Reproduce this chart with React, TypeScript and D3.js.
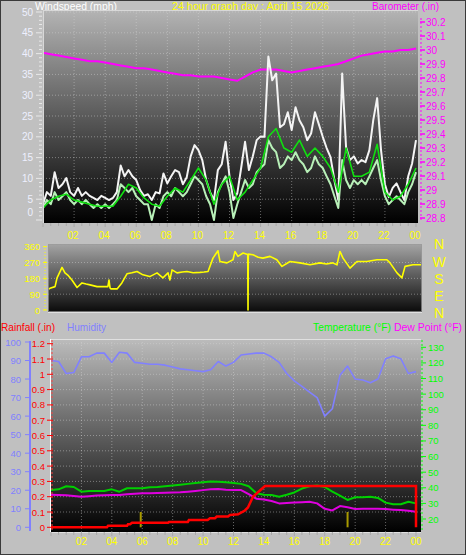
import React from 'react';
import * as d3 from 'd3';

// ---------- DATA ----------
const hourLabels = ['02', '04', '06', '08', '10', '12', '14', '16', '18', '20', '22', '00'];

// wind (mph), every 15 minutes from 00:00 to 24:00
const windGust = [
  3.8, 6.7, 5.8, 11.5, 7.7, 8.6, 10.1, 6.7, 5.8, 7.7, 5.8, 6.7, 5.8, 5.3, 4.8, 5.8,
  5.3, 4.8, 5.3, 6.7, 13.1, 10.5, 12, 10.5, 9.6, 7.2, 5.8, 6.2, 4.8, 6.7, 6.4, 11.2,
  8.8, 10.5, 12, 11.5, 8.6, 10.3, 15.3, 18, 16.8, 14.4, 9.6, 6.7, 4.8, 12, 13.4, 18.8,
  10.5, 4.8, 6.4, 12.5, 18.8, 12, 15.3, 19.2, 20.1, 20, 39.3, 33.6, 35.2, 22.3, 23, 25.9,
  21.6, 27.1, 24, 22.3, 19.2, 20.8, 25.9, 23, 20, 17.3, 15.1, 9.6, 4.8, 35.2, 17.5, 14.4,
  15.3, 13.6, 14.4, 13.9, 16.8, 24, 29.3, 16.8, 8.6, 5.5, 7.7, 8.8, 6.7, 4.8, 10.5, 13.6,
  19.2,
];
const windSpeed = [
  2.9, 4.8, 3.8, 6.7, 4.8, 5.7, 6.7, 4.8, 3.8, 4.8, 3.8, 4.8, 3.8, 2.9, 3.8, 2.9,
  3.8, 2.9, 3.8, 4.8, 8.6, 7.7, 6.7, 7.7, 5.7, 4.8, 3.8, 3.8, 0, 3.8, 2.9, 5.7,
  6.7, 5.7, 7.7, 6.7, 5.7, 6.7, 8.6, 10.5, 9.6, 8.6, 5.7, 3.8, 0, 6.7, 8.6, 10.5,
  6.7, 0.5, 3.8, 6.7, 9.6, 7.7, 8.6, 11.5, 12.5, 13.4, 19.2, 17.3, 16.3, 12.5, 13.4, 15.3,
  14.4, 16.3, 14.4, 13.4, 11.5, 12.5, 15.3, 13.4, 12.5, 10.5, 8.6, 5.7, 2.9, 14.4, 9.6, 7.7,
  9.6, 8.6, 9.6, 8.6, 10.5, 12.5, 14.4, 9.6, 5.7, 3.8, 4.8, 5.7, 4.8, 3.8, 6.7, 8.6,
  11.5,
];
// wind average (mph), every 30 minutes
const windAvg = [
  2.9, 4.8, 5.7, 6.2, 4.8, 4.3, 3.8, 3.3, 3.3, 3.3, 5.7, 8.6, 7.7, 5.3, 3.8, 3.3,
  5.7, 7.7, 6.7, 9.6, 12.5, 9.6, 3.8, 8.6, 10.5, 4.8, 6.7, 9.6, 12.5, 20, 22, 17.3,
  16.3, 19.2, 15.3, 17.3, 15.3, 12.5, 6.7, 17.3, 10.5, 10.5, 11.5, 18.2, 6.7, 4.8, 5.7, 8.6,
  12.5,
];
// barometer (in), every 30 minutes
const barometer = [
  29.98, 29.97, 29.96, 29.95, 29.94, 29.93, 29.92, 29.92, 29.91, 29.9, 29.89, 29.88,
  29.87, 29.87, 29.86, 29.85, 29.84, 29.83, 29.82, 29.82, 29.81, 29.81, 29.81, 29.8,
  29.79, 29.78, 29.81, 29.84, 29.86, 29.86, 29.86, 29.85, 29.84, 29.85, 29.86, 29.87,
  29.88, 29.89, 29.9, 29.92, 29.94, 29.96, 29.97, 29.98, 29.99, 29.99, 30.0, 30.0,
  30.01,
];
// wind direction readings [hour, degrees]
const windDirection: [number, number][] = [
  [0, 118], [0.06, 124], [0.39, 133], [0.52, 183], [0.84, 242], [1.03, 211], [1.25, 195],
  [1.48, 171], [1.81, 128], [2.13, 154], [2.4, 148], [2.65, 143], [3.1, 133], [3.5, 134],
  [3.8, 133], [3.87, 171], [3.94, 125], [4.0, 120], [4.39, 120], [4.7, 154], [5.03, 206],
  [5.35, 212], [5.68, 219], [6.06, 200], [6.5, 190], [6.97, 211], [7.35, 183], [7.68, 211],
  [7.8, 171], [7.94, 228], [8.26, 211], [8.6, 216], [8.9, 219], [9.3, 212], [9.74, 214],
  [10.0, 216], [10.26, 219], [10.58, 295], [10.9, 337], [11.03, 276], [11.48, 268],
  [11.87, 286], [12.0, 333], [12.19, 305], [12.52, 324], [12.82, 316], [12.84, 0],
  [12.86, 318], [13.16, 314], [13.5, 300], [13.8, 295], [14.26, 305], [14.7, 286],
  [15.03, 248], [15.55, 276], [16.19, 268], [16.84, 257], [17.48, 268], [17.9, 262],
  [18.3, 268], [18.58, 257], [18.77, 333], [18.97, 295], [19.42, 238], [19.87, 276],
  [20.5, 276], [21.16, 286], [21.8, 286], [22.0, 268], [22.45, 211], [22.77, 183],
  [22.97, 248], [23.48, 257], [24, 257],
];
// humidity (%), every 30 minutes
const humidity = [
  90, 89.5, 83, 83.5, 92, 92, 94, 94, 89, 94.5, 94, 89, 88.5, 88, 88, 87.5,
  86.5, 85.5, 85, 84.5, 84, 85, 89.5, 87, 89, 93, 93.5, 94, 94, 92, 89, 83,
  79, 76, 73, 70, 60, 64, 82, 87, 80, 79.5, 78, 80, 91, 92.5, 91, 83,
  84,
];
// temperature (°F), every 30 minutes
const temperature = [
  38.5, 39, 41, 40.5, 37.5, 38, 38, 38, 39, 37.5, 39.7, 39.7, 39.7, 40.3, 40.5, 41,
  41.5, 42, 42.5, 43, 43.5, 44, 43.8, 43.5, 43, 42.5, 41, 36.5, 35.5, 35.4, 34.3, 35.5,
  37, 39.5, 41, 41.5, 40.5, 37.5, 35, 32.2, 33.9, 34, 34.2, 33.5, 30.5, 29.5, 29.5, 31,
  30,
];
// dew point (°F), every 30 minutes
const dewPoint = [
  35.5, 35.4, 35.2, 34.8, 34.3, 34.6, 35, 35.2, 35.4, 35.3, 35.8, 36.2, 36.5, 36.5, 36.6, 36.8,
  37, 37.1, 37.5, 38, 38.5, 39, 39.2, 38.8, 38.6, 38.5, 36, 33, 32.5, 31.5, 30, 30.2,
  30.5, 30.8, 31, 30, 26.5, 25.5, 28.3, 27.5, 26.4, 26.5, 26.6, 26.5, 26.4, 26, 25.7, 25.3,
  24.7,
];
// cumulative rainfall readings [hour, inches]
const rainfall: [number, number][] = [
  [0, 0], [3.68, 0], [3.75, 0.01], [5.0, 0.01], [5.06, 0.02], [5.2, 0.02], [5.33, 0.03],
  [7.7, 0.03], [7.76, 0.035], [9.0, 0.035], [9.07, 0.048], [10.3, 0.048], [10.45, 0.059],
  [10.78, 0.059], [10.9, 0.07], [11.64, 0.07], [11.77, 0.08], [12.3, 0.085], [12.75, 0.11],
  [12.95, 0.13], [13.28, 0.2], [14.07, 0.27], [24, 0.27], [24, 0],
];
// rain rate marks [hour, in]
const rainRate: [number, number][] = [[5.9, 0.1], [19.5, 0.1]];

const windTicks = d3.range(0, 51, 5);
const baroTicks = d3.range(0, 15).map((i) => +(28.8 + i * 0.1).toFixed(1));
const dirTicks = [0, 90, 180, 270, 360];
const dirLetters = ['N', 'W', 'S', 'E', 'N'];
const humTicks = d3.range(0, 101, 10);
const rainTicks = d3.range(0, 13).map((i) => +(i * 0.1).toFixed(1));
const tempTicks = d3.range(20, 131, 10);

// ---------- LAYOUT ----------
const FONT = "'Liberation Sans', Arial, sans-serif";
const top = { x0: 43, x1: 418, y0: 10, y1: 223 };
const mid = { x0: 48, x1: 422, y0: 244, y1: 312 };
const bot = { x0: 51, x1: 421, y0: 339, y1: 532 };

const xT = d3.scaleLinear().domain([0, 24]).range([43, 416]);
const yW = d3.scaleLinear().domain([0, 50]).range([220, 12]);
const yB = d3.scaleLinear().domain([28.8, 30.2]).range([218, 22]);
const xM = d3.scaleLinear().domain([0, 24]).range([49, 421]);
const yD = d3.scaleLinear().domain([0, 360]).range([310, 246.7]);
const xB = d3.scaleLinear().domain([0, 24]).range([51, 416]);
const yH = d3.scaleLinear().domain([0, 100]).range([527.3, 342]);
const yR = d3.scaleLinear().domain([0, 1.2]).range([527.3, 343.7]);
const yTm = d3.scaleLinear().domain([20, 130]).range([519, 347.3]);

const fmt = (v: number) => String(+v.toFixed(1));

function series(vals: number[], step: number, x: (h: number) => number, y: (v: number) => number) {
  return d3
    .line<number>()
    .x((_, i) => x(i * step))
    .y((v) => y(v))(vals) as string;
}
function pairs(vals: [number, number][], x: (h: number) => number, y: (v: number) => number) {
  return d3
    .line<[number, number]>()
    .x((d) => x(d[0]))
    .y((d) => y(d[1]))(vals) as string;
}

const gridStyle = { stroke: '#d8d8d8', strokeOpacity: 0.45, strokeWidth: 1, strokeDasharray: '1,2' };

function Label(props: { x: number; y: number; w: number; fill: string; children: string }) {
  return (
    <text x={props.x} y={props.y} fontSize={11} fill={props.fill} textLength={props.w} lengthAdjust="spacingAndGlyphs">
      {props.children}
    </text>
  );
}

export default function App() {
  const halfHours = d3.range(0, 49).map((i) => i * 0.5);
  const evenHours = d3.range(2, 25, 2);
  return (
    <svg
      width={466}
      height={555}
      style={{ position: 'absolute', left: 0, top: 0, background: '#c0c0c0' }}
      fontFamily={FONT}
    >
      <defs>
        <linearGradient id="gTop" x1="0" y1="0" x2="0" y2="1">
          <stop offset="0" stopColor="#b4b4b4" />
          <stop offset="0.5" stopColor="#5a5a5a" />
          <stop offset="1" stopColor="#000" />
        </linearGradient>
        <linearGradient id="gMid" x1="0" y1="0" x2="0" y2="1">
          <stop offset="0" stopColor="#a4a4a4" />
          <stop offset="1" stopColor="#0a0a0a" />
        </linearGradient>
        <linearGradient id="gBot" x1="0" y1="0" x2="0" y2="1">
          <stop offset="0" stopColor="#bcbcbc" />
          <stop offset="0.5" stopColor="#5e5e5e" />
          <stop offset="1" stopColor="#000" />
        </linearGradient>
        <clipPath id="cTop">
          <rect x={top.x0} y={top.y0} width={top.x1 - top.x0} height={top.y1 - top.y0} />
        </clipPath>
        <clipPath id="cMid">
          <rect x={mid.x0} y={mid.y0} width={mid.x1 - mid.x0} height={mid.y1 - mid.y0} />
        </clipPath>
        <clipPath id="cBot">
          <rect x={bot.x0} y={bot.y0 - 2} width={bot.x1 - bot.x0} height={bot.y1 - bot.y0 + 2} />
        </clipPath>
      </defs>
      <rect x={0.5} y={0.5} width={465} height={554} fill="#c0c0c0" stroke="#3a3a3a" />

      {/* ---------- TOP PANEL ---------- */}
      <Label x={35} y={10} w={82} fill="#ffffff">Windspeed (mph)</Label>
      <Label x={172} y={10} w={157} fill="#ffff00">24 hour graph day : April 15 2026</Label>
      <Label x={372} y={10} w={67} fill="#ff00ff">Barometer (.in)</Label>

      <rect x={top.x0} y={top.y0} width={top.x1 - top.x0} height={top.y1 - top.y0} fill="url(#gTop)" />
      {windTicks.filter((v) => v > 0).map((v) => (
        <line key={'wg' + v} x1={top.x0} x2={top.x1} y1={yW(v)} y2={yW(v)} {...gridStyle} />
      ))}
      {evenHours.filter((h) => h < 24).map((h) => (
        <line key={'wv' + h} x1={xT(h)} x2={xT(h)} y1={top.y0} y2={top.y1} {...gridStyle} />
      ))}
      <g clipPath="url(#cTop)">
        <path d={series(barometer, 0.5, xT, yB)} fill="none" stroke="#ff00ff" strokeWidth={2} />
        <path d={series(windGust, 0.25, xT, yW)} fill="none" stroke="#f4f4f4" strokeWidth={2} strokeLinejoin="round" />
        <path d={series(windSpeed, 0.25, xT, yW)} fill="none" stroke="#b8f0b8" strokeWidth={2} strokeLinejoin="round" />
        <path d={series(windAvg, 0.5, xT, yW)} fill="none" stroke="#10e010" strokeWidth={1.6} strokeLinejoin="round" />
      </g>
      <line x1={top.x0} x2={top.x1} y1={top.y0 + 0.5} y2={top.y0 + 0.5} stroke="#d8d8d8" />
      <line x1={top.x0 + 0.5} x2={top.x0 + 0.5} y1={top.y0} y2={top.y1} stroke="#d8d8d8" />
      {/* left axis */}
      {d3.range(0, 51).map((v) => (
        <line key={'wm' + v} x1={v % 5 === 0 ? 36 : 39} x2={42} y1={yW(v)} y2={yW(v)} stroke="#e8e8e8" strokeWidth={1} />
      ))}
      {windTicks.map((v) => (
        <text key={'wl' + v} x={33} y={Math.min(yW(v), 212) + 3.5} fontSize={10} fill="#eef0ff" textAnchor="end">{v}</text>
      ))}
      {/* right axis */}
      <line x1={421} x2={421} y1={top.y0 + 8} y2={top.y1 - 2} stroke="#ff00ff" strokeDasharray="2,2" />
      {baroTicks.map((v) => (
        <g key={'bl' + v}>
          <line x1={420} x2={425} y1={yB(v)} y2={yB(v)} stroke="#ff00ff" strokeWidth={1.5} />
          <text x={426} y={yB(v) + 3.5} fontSize={10} fill="#ff00ff">{fmt(v)}</text>
        </g>
      ))}
      {/* bottom ticks and hour labels */}
      {halfHours.map((h) => (
        <line key={'tt' + h} x1={xT(h)} x2={xT(h)} y1={top.y1} y2={top.y1 + (h % 2 === 0 ? 4 : 3)} stroke="#a8a8a8" />
      ))}
      {evenHours.map((h, i) => (
        <text key={'tl' + h} x={xT(h) - 1} y={239} fontSize={10} fill="#ffff00" textAnchor="middle">{hourLabels[i]}</text>
      ))}

      {/* ---------- MIDDLE PANEL ---------- */}
      <rect x={mid.x0} y={mid.y0} width={mid.x1 - mid.x0} height={mid.y1 - mid.y0} fill="url(#gMid)" />
      {dirTicks.filter((v) => v > 0 && v < 360).map((v) => (
        <line key={'dg' + v} x1={mid.x0} x2={mid.x1} y1={yD(v)} y2={yD(v)} {...gridStyle} />
      ))}
      <g clipPath="url(#cMid)">
        <path d={pairs(windDirection, xM, yD)} fill="none" stroke="#ffff00" strokeWidth={1.6} strokeLinejoin="round" />
      </g>
      <rect x={mid.x0 + 0.5} y={mid.y0 + 0.5} width={mid.x1 - mid.x0 - 1} height={mid.y1 - mid.y0 - 1} fill="none" stroke="#9a9a9a" strokeOpacity={0.7} />
      <line x1={mid.x0} x2={mid.x1} y1={mid.y1 + 0.5} y2={mid.y1 + 0.5} stroke="#e0e0e0" />
      <line x1={45} x2={45} y1={mid.y0 + 2} y2={mid.y1 - 1} stroke="#ffff00" strokeDasharray="1,2" />
      {dirTicks.map((v) => (
        <g key={'dl' + v}>
          <line x1={43} x2={47} y1={yD(v)} y2={yD(v)} stroke="#ffff00" />
          <text x={40} y={yD(v) + 3.5} fontSize={9.5} fill="#ffff00" textAnchor="end">{v}</text>
        </g>
      ))}
      {dirTicks.map((v, i) => (
        <text key={'dn' + i} x={439} y={[244, 262, 279, 296, 313][i] + 5} fontSize={14} fill="#ffff00" textAnchor="middle">{dirLetters[i]}</text>
      ))}

      {/* ---------- BOTTOM PANEL ---------- */}
      <Label x={1} y={331} w={54} fill="#ff0000">Rainfall (.in)</Label>
      <Label x={67} y={331} w={39} fill="#8080ff">Humidity</Label>
      <Label x={313} y={331} w={78} fill="#00ff00">Temperature (°F)</Label>
      <Label x={394} y={331} w={68} fill="#ff00ff">Dew Point (°F)</Label>

      <rect x={bot.x0} y={bot.y0} width={bot.x1 - bot.x0} height={bot.y1 - bot.y0} fill="url(#gBot)" />
      {rainTicks.filter((v) => v > 0).map((v) => (
        <line key={'rg' + v} x1={bot.x0} x2={bot.x1} y1={yR(v)} y2={yR(v)} {...gridStyle} />
      ))}
      {evenHours.filter((h) => h < 24).map((h) => (
        <line key={'bv' + h} x1={xB(h)} x2={xB(h)} y1={bot.y0} y2={bot.y1} {...gridStyle} />
      ))}
      <g clipPath="url(#cBot)">
        {rainRate.map((d, i) => (
          <line key={'rr' + i} x1={xB(d[0])} x2={xB(d[0])} y1={yR(0)} y2={yR(d[1])} stroke="#a89a00" strokeWidth={2} />
        ))}
        <path d={series(humidity, 0.5, xB, yH)} fill="none" stroke="#8080ff" strokeWidth={1.6} strokeLinejoin="round" />
        <path d={series(dewPoint, 0.5, xB, yTm)} fill="none" stroke="#e000e0" strokeWidth={2} strokeLinejoin="round" />
        <path d={series(temperature, 0.5, xB, yTm)} fill="none" stroke="#00d000" strokeWidth={2} strokeLinejoin="round" />
        <path d={pairs(rainfall, xB, yR)} fill="none" stroke="#ff0000" strokeWidth={2.5} />
      </g>
      <line x1={bot.x0} x2={bot.x1} y1={bot.y0 + 0.5} y2={bot.y0 + 0.5} stroke="#e0e0e0" />
      <line x1={bot.x0 - 0.5} x2={bot.x0 - 0.5} y1={bot.y0} y2={bot.y1} stroke="#ffffff" />
      <line x1={bot.x0} x2={bot.x1} y1={bot.y1 + 0.5} y2={bot.y1 + 0.5} stroke="#e0e0e0" />
      {/* humidity axis */}
      <line x1={30} x2={30} y1={341} y2={531} stroke="#8080ff" strokeWidth={2} />
      {humTicks.map((v) => (
        <g key={'hl' + v}>
          <line x1={25} x2={30} y1={yH(v)} y2={yH(v)} stroke="#8080ff" />
          <text x={21} y={yH(v) + 3.5} fontSize={9.5} fill="#8080ff" textAnchor="end">{v}</text>
        </g>
      ))}
      {/* rain axis */}
      <line x1={52} x2={52} y1={340} y2={531} stroke="#ff4040" strokeDasharray="2,2" />
      {rainTicks.map((v) => (
        <g key={'rl' + v}>
          <line x1={47} x2={53} y1={yR(v)} y2={yR(v)} stroke="#ff0000" />
          <text x={45} y={yR(v) + 3.5} fontSize={9.5} fill="#ff0000" textAnchor="end">{fmt(v)}</text>
        </g>
      ))}
      {/* temperature axis */}
      <line x1={422} x2={422} y1={340} y2={531} stroke="#00ff00" strokeDasharray="2,2" />
      {tempTicks.map((v) => (
        <g key={'tl' + v}>
          <line x1={421} x2={426} y1={yTm(v)} y2={yTm(v)} stroke="#00ff00" />
          <text x={428} y={yTm(v) + 3.5} fontSize={9.5} fill="#00ff00">{v}</text>
        </g>
      ))}
      {halfHours.map((h) => (
        <line key={'bt' + h} x1={xB(h)} x2={xB(h)} y1={bot.y1} y2={bot.y1 + (h % 2 === 0 ? 4 : 3)} stroke="#a8a8a8" />
      ))}
      {evenHours.map((h, i) => (
        <text key={'bl' + h} x={xB(h)} y={545} fontSize={10} fill="#ffff00" textAnchor="middle">{hourLabels[i]}</text>
      ))}
    </svg>
  );
}
